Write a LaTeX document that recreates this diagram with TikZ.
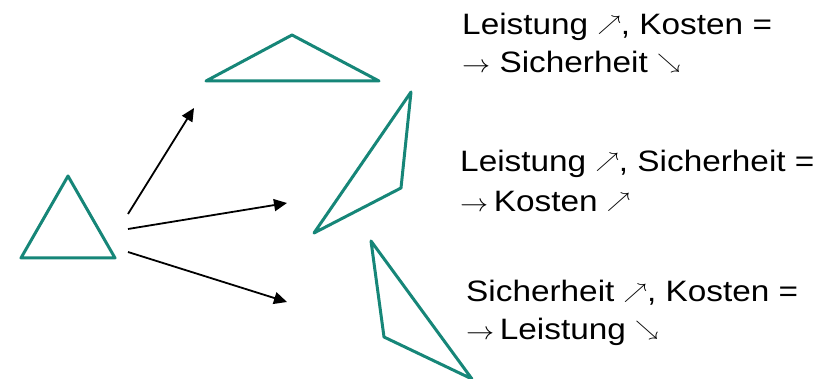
\documentclass[tikz,border=0pt]{standalone}
\usepackage{fontspec}
\setmainfont{Liberation Sans}
\usetikzlibrary{arrows.meta}
\definecolor{teal1}{RGB}{22,134,120}
\tikzset{
  tri/.style={draw=teal1, line width=3pt, line join=round},
  conn/.style={draw=black, line width=1.8pt, -{Triangle[length=13pt,width=12pt]}},
  lbl/.style={anchor=base west, inner sep=0pt, xscale=1.13, font=\fontsize{29.5}{34}\selectfont}
}
\newcommand{\ua}{\raisebox{4pt}{\fontsize{22}{26}\selectfont$\nearrow$}}
\newcommand{\da}{\raisebox{4pt}{\fontsize{22}{26}\selectfont$\searrow$}}
\newcommand{\ra}{$\rightarrow$}
\begin{document}
\begin{tikzpicture}[x=1pt,y=-1pt]
\useasboundingbox (0,0) rectangle (830,379);
% triangles
\draw[tri] (68,176) -- (21,258) -- (115,258) -- cycle;
\draw[tri] (292,35) -- (206,81) -- (379,81) -- cycle;
\draw[tri] (411,92) -- (401,188) -- (314,233) -- cycle;
\draw[tri] (371,241) -- (384,337) -- (472,379) -- cycle;
% connector endpoints
\coordinate (s1) at (128,214);
\coordinate (e1) at (194,108);
\coordinate (s2) at (128,229);
\coordinate (e2) at (287,203);
\coordinate (s3) at (128,252);
\coordinate (e3) at (287,302);
\draw[conn] (s1) -- (e1);
\draw[conn] (s2) -- (e2);
\draw[conn] (s3) -- (e3);
% labels
\node[lbl] (t1a) at (462,35) {Leistung \ua, Kosten =};
\node[lbl] (t1b) at (462,73) {\ra\ Sicherheit \da};
\node[lbl] (t2a) at (460,172) {Leistung \ua, Sicherheit =};
\node[lbl] (t2b) at (460,212) {\ra\,Kosten \ua};
\node[lbl] (t3a) at (466,302) {Sicherheit \ua, Kosten =};
\node[lbl] (t3b) at (466,340) {\ra\,Leistung \da};
\end{tikzpicture}
\end{document}
